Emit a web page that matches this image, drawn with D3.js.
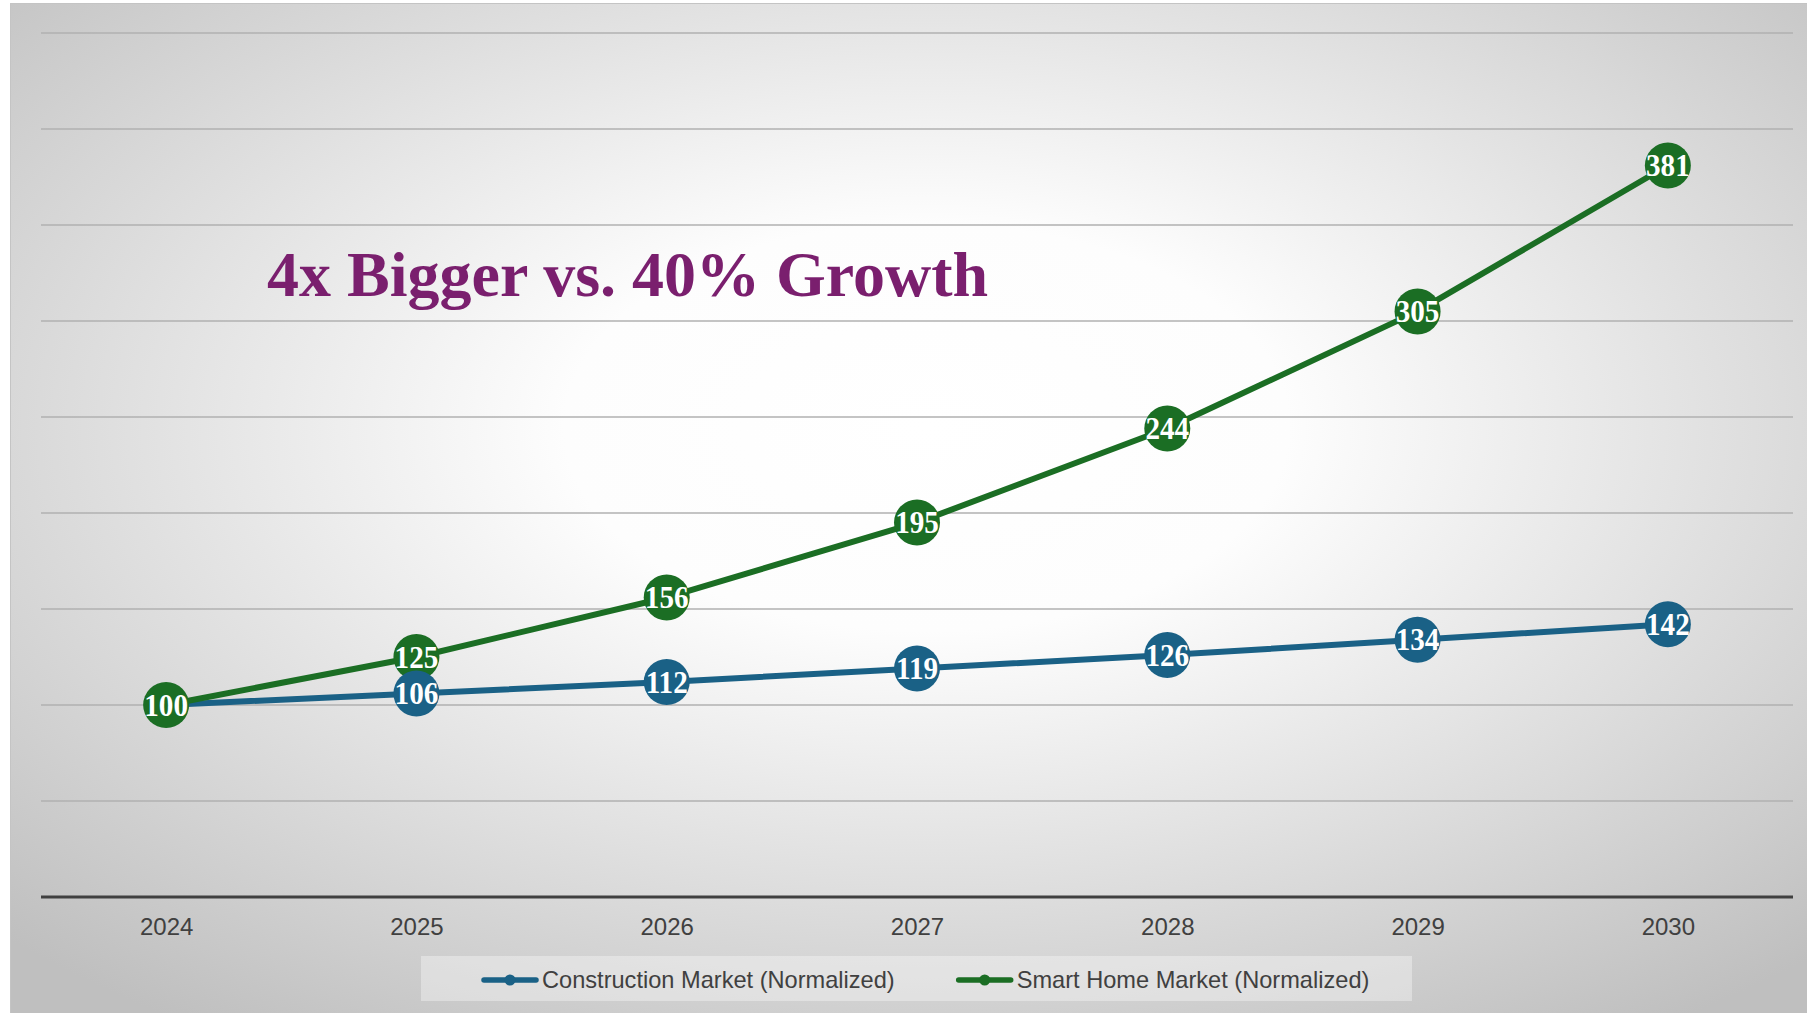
<!DOCTYPE html>
<html>
<head>
<meta charset="utf-8">
<script src="https://cdn.jsdelivr.net/npm/d3@7"></script>
<style>
  html, body { margin: 0; padding: 0; background: #ffffff; }
  svg { display: block; }
</style>
</head>
<body>
<svg id="chart" width="1807" height="1013"></svg>
<script>
// chart data
var years = ["2024", "2025", "2026", "2027", "2028", "2029", "2030"];
var construction = [100, 106, 112, 119, 126, 134, 142];
var smartHome = [100, 125, 156, 195, 244, 305, 381];
var gridValues = [50, 100, 150, 200, 250, 300, 350, 400, 450];
var seriesNames = ["Construction Market (Normalized)", "Smart Home Market (Normalized)"];
var titleText = "4x Bigger vs. 40% Growth";

var blue = "#1a6186",
    green = "#1b6e24";

var svg = d3.select("#chart");

// background panel with radial shading
var defs = svg.append("defs");
var grad = defs.append("radialGradient")
    .attr("id", "bg")
    .attr("cx", 0.51).attr("cy", 0.42).attr("r", 0.72)
    .attr("fx", 0.51).attr("fy", 0.42);
grad.append("stop").attr("offset", "0%").attr("stop-color", "#ffffff");
grad.append("stop").attr("offset", "28%").attr("stop-color", "#fdfdfd");
grad.append("stop").attr("offset", "100%").attr("stop-color", "#bfbfbf");

svg.append("rect")
    .attr("x", 10).attr("y", 3)
    .attr("width", 1797).attr("height", 1010)
    .attr("fill", "url(#bg)");
svg.append("path")
    .attr("d", "M10.5,1013V3.5H1807")
    .attr("fill", "none")
    .attr("stroke", "#c4c4c4")
    .attr("stroke-width", 1);

var x = d3.scalePoint().domain(years).range([41, 1793]).padding(0.5);
var y = d3.scaleLinear().domain([0, 450]).range([897, 33]);

// horizontal gridlines
svg.append("g")
    .selectAll("line")
    .data(gridValues)
    .join("line")
    .attr("x1", 41).attr("x2", 1793)
    .attr("y1", function(d) { return y(d); })
    .attr("y2", function(d) { return y(d); })
    .attr("stroke", "#b0b0b0")
    .attr("stroke-width", 1.3);

// x axis
var xAxis = svg.append("g")
    .attr("transform", "translate(0," + y(0) + ")")
    .call(d3.axisBottom(x).tickSize(0).tickPadding(21));
xAxis.select(".domain")
    .attr("d", "M41,0H1793")
    .attr("stroke", "#404040")
    .attr("stroke-width", 3.2);
xAxis.selectAll("text")
    .attr("font-family", "'Liberation Sans', Arial, sans-serif")
    .attr("font-size", 24)
    .attr("fill", "#404040");

// title
svg.append("text")
    .attr("x", 267).attr("y", 296)
    .attr("font-family", "'Liberation Serif', 'Times New Roman', serif")
    .attr("font-weight", "bold")
    .attr("font-size", 64)
    .attr("fill", "#7a1f6e")
    .text(titleText);

// lines
var line = d3.line()
    .x(function(d, i) { return x(years[i]); })
    .y(function(d) { return y(d); });

svg.append("path").datum(construction)
    .attr("d", line)
    .attr("fill", "none").attr("stroke", blue)
    .attr("stroke-width", 6).attr("stroke-linejoin", "round");
svg.append("path").datum(smartHome)
    .attr("d", line)
    .attr("fill", "none").attr("stroke", green)
    .attr("stroke-width", 6).attr("stroke-linejoin", "round");

// circular data labels; construction's first label sits under the smart home one and is left out
function drawLabels(values, color, skipFirst) {
    var pts = values.map(function(v, i) { return { v: v, i: i }; })
        .filter(function(p) { return !(skipFirst && p.i === 0); });
    var g = svg.append("g").selectAll("g")
        .data(pts)
        .join("g")
        .attr("transform", function(p) {
            return "translate(" + x(years[p.i]) + "," + y(p.v) + ")";
        });
    g.append("circle").attr("r", 23).attr("fill", color);
    g.append("text")
        .attr("text-anchor", "middle")
        .attr("dy", "0.34em")
        .attr("font-family", "'Liberation Serif', 'Times New Roman', serif")
        .attr("font-weight", "bold")
        .attr("font-size", 31)
        .attr("fill", "#ffffff")
        .attr("transform", "scale(0.94,1)")
        .text(function(p) { return p.v; });
}
drawLabels(smartHome, green, false);
drawLabels(construction, blue, true);

// legend
svg.append("rect")
    .attr("x", 421).attr("y", 956)
    .attr("width", 991).attr("height", 45)
    .attr("fill", "#ffffff").attr("fill-opacity", 0.35);

var legend = svg.append("g");
var lx = 482;
[blue, green].forEach(function(color, i) {
    var item = legend.append("g").attr("transform", "translate(" + lx + ",980)");
    item.append("line")
        .attr("x1", 2).attr("x2", 54)
        .attr("stroke", color).attr("stroke-width", 5.5)
        .attr("stroke-linecap", "round");
    item.append("circle").attr("cx", 28).attr("r", 5.5).attr("fill", color);
    var t = item.append("text")
        .attr("x", 60).attr("dy", "0.35em")
        .attr("font-family", "'Liberation Sans', Arial, sans-serif")
        .attr("font-size", 23.6)
        .attr("fill", "#404040")
        .text(seriesNames[i]);
    lx += 60 + t.node().getComputedTextLength() + 62;
});
</script>
</body>
</html>
